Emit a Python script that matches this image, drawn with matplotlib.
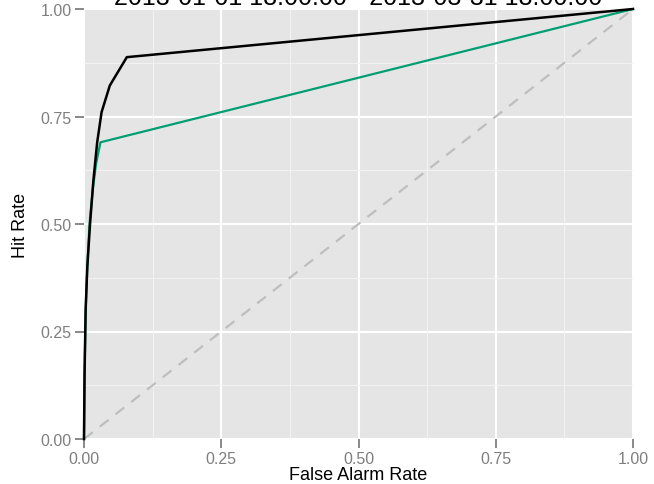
import numpy as np
import matplotlib
matplotlib.use("Agg")
import matplotlib.pyplot as plt

plt.rcParams['font.family'] = ['Liberation Sans', 'DejaVu Sans']

title = "2013-01-01 18:00:00 - 2013-03-31 18:00:00"

# ROC points
far_black = [0.0, 0.001, 0.003, 0.006, 0.011, 0.017, 0.024, 0.032, 0.047, 0.078, 1.0]
hit_black = [0.0, 0.15, 0.30, 0.40, 0.50, 0.60, 0.69, 0.76, 0.822, 0.888, 1.0]

far_green = [0.0, 0.001, 0.003, 0.006, 0.010, 0.016, 0.022, 0.030, 1.0]
hit_green = [0.0, 0.15, 0.30, 0.40, 0.50, 0.58, 0.64, 0.69, 1.0]

ticks = [0.0, 0.25, 0.5, 0.75, 1.0]
tick_labels = ["0.00", "0.25", "0.50", "0.75", "1.00"]
minor = [0.125, 0.375, 0.625, 0.875]

fig = plt.figure(figsize=(6.54, 4.85), dpi=100)
ax = fig.add_axes([84/654, 1 - 440/485, 549/654, 430/485])
ax.set_facecolor("#E5E5E5")

for v in ticks:
    ax.axvline(v, color="white", lw=1.5, zorder=1)
    ax.axhline(v, color="white", lw=1.5, zorder=1)
for v in minor:
    ax.axvline(v, color="#F2F2F2", lw=0.8, zorder=1)
    ax.axhline(v, color="#F2F2F2", lw=0.8, zorder=1)

ax.plot([0, 1], [0, 1], color="#BEBEBE", lw=1.6, dashes=(5, 4), zorder=2)
ax.plot(far_green, hit_green, color="#009E73", lw=1.6, zorder=3, clip_on=False)
ax.plot(far_black, hit_black, color="black", lw=1.8, zorder=4, clip_on=False)

ax.set_xlim(0, 1)
ax.set_ylim(0, 1)
ax.set_xticks(ticks)
ax.set_xticklabels(tick_labels)
ax.set_yticks(ticks)
ax.set_yticklabels(tick_labels)
for s in ax.spines.values():
    s.set_visible(False)
ax.tick_params(length=6.5, width=1.3, color="#7F7F7F", labelcolor="#7F7F7F",
               labelsize=11.5, pad=2.5)

ax.set_xlabel("False Alarm Rate", fontsize=13, labelpad=0)
ax.set_ylabel("Hit Rate", fontsize=13, labelpad=8,
              family=['Liberation Sans Narrow', 'Liberation Sans', 'DejaVu Sans'])

fig.text(0.5 * (84 + 633) / 654, 1 - 5/485, title, ha="center", va="baseline",
         fontsize=18)

fig.savefig("out.png", dpi=100)
